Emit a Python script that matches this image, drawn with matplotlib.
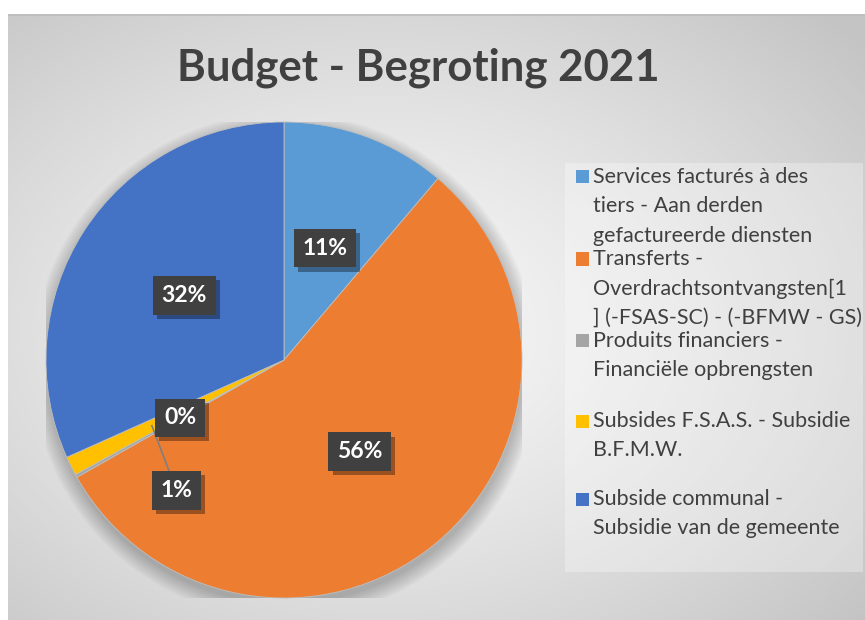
import numpy as np
import matplotlib
matplotlib.use("Agg")
import matplotlib.pyplot as plt
import matplotlib.patches as mpatches
import matplotlib.patheffects as pe

# ---------------- data ----------------
title = "Budget - Begroting 2021"
categories = [
    "Services facturés à des\ntiers - Aan derden\ngefactureerde diensten",
    "Transferts -\nOverdrachtsontvangsten[1\n] (-FSAS-SC) - (-BFMW - GS)",
    "Produits financiers -\nFinanciële opbrengsten",
    "Subsides F.S.A.S. - Subsidie\nB.F.M.W.",
    "Subside communal -\nSubsidie van de gemeente",
]
values = [11.2, 55.6, 0.2, 1.3, 31.7]
pct_labels = ["11%", "56%", "0%", "1%", "32%"]
colors = ["#5B9BD5", "#ED7D31", "#A5A5A5", "#FFC000", "#4472C4"]

W, H = 865, 620
fig = plt.figure(figsize=(W / 100, H / 100), dpi=100)
fig.patch.set_facecolor("white")

def fx(px):
    return px / W

def fy(py):
    return 1 - py / H

# ---------------- background gradient ----------------
bx0, by0 = 8, 14
bg = fig.add_axes([fx(bx0), 0, 1 - fx(bx0), fy(by0)])
bg.set_axis_off()
nx, ny = 400, 300
xs = np.linspace(bx0, W, nx)
ys = np.linspace(by0, H, ny)
X, Y = np.meshgrid(xs, ys)
cx, cy = 380, 330
r = np.sqrt(((X - cx) / 470) ** 2 + ((Y - cy) / 330) ** 2)
r = np.clip(r / 1.35, 0, 1)
light, dark = 0.97, 0.77
val = light - (light - dark) * r ** 1.3
img = np.dstack([val, val, val])
bg.imshow(img, extent=[0, 1, 0, 1], aspect="auto", origin="upper")
bg.set_xlim(0, 1)
bg.set_ylim(0, 1)
bg.plot([0, 1], [0.999, 0.999], color="#bdbdbd", lw=1.2)

# ---------------- pie ----------------
pcx, pcy, rad = 284, 360, 238
ax = fig.add_axes([fx(pcx - rad), fy(pcy + rad), 2 * rad / W, 2 * rad / H])
ax.set_axis_off()

# soft shadow
for i in range(10):
    ax.add_patch(mpatches.Circle((0.005, -0.025), 1.0 + 0.007 * i,
                                 color="black", alpha=0.025, lw=0, zorder=0))

wedges, _ = ax.pie(values, colors=colors, startangle=90, counterclock=False,
                   radius=1.0, wedgeprops=dict(linewidth=0.6, edgecolor="#bfbfbf"))
for w in wedges:
    w.set_zorder(1)
ax.set_aspect("equal")
ax.set_xlim(-1, 1)
ax.set_ylim(-1, 1)

total = float(sum(values))
cum = np.cumsum([0] + values)
mid_angles = [90 - 360 * (cum[i] + values[i] / 2) / total for i in range(len(values))]

label_r = [0.5, 0.5, 0.5, 0.71, 0.5]
label_shift = [0, 0, 0, 24, 0]  # angular offset (deg) for crowded small slices

def make_label(txt, x, y, z):
    t = ax.text(x, y, txt, ha="center", va="center", color="white",
                fontsize=16.5, fontweight="bold", family="Lato", zorder=z,
                bbox=dict(boxstyle="square,pad=0.38", fc="#404040", ec="none"))
    t.get_bbox_patch().set_path_effects([
        pe.withSimplePatchShadow(offset=(3, -3), shadow_rgbFace="black", alpha=0.35),
        pe.Normal()])
    return t

positions = []
for i, txt in enumerate(pct_labels):
    a = np.deg2rad(mid_angles[i] + label_shift[i])
    x, y = label_r[i] * np.cos(a), label_r[i] * np.sin(a)
    positions.append((x, y))

# leader line for the 1% label
a3 = np.deg2rad(mid_angles[3])
x3, y3 = positions[3]
ax.plot([x3, 0.62 * np.cos(a3)], [y3, 0.62 * np.sin(a3)], color="#7f7f7f",
        lw=1.2, zorder=3)

for i, txt in enumerate(pct_labels):
    z = 6 if i == 2 else 5
    make_label(txt, positions[i][0], positions[i][1], z)

# ---------------- title ----------------
fig.text(fx(418), fy(68), title, ha="center", va="center", fontsize=31.5,
         fontweight="bold", color="#404040", family="Lato")

# ---------------- legend ----------------
lg = mpatches.Rectangle((fx(565), fy(572)), fx(863 - 565), (572 - 163) / H,
                        transform=fig.transFigure, fc="white", alpha=0.3,
                        ec="none", zorder=1)
fig.patches.append(lg)

entry_y = [177, 259, 341, 421, 499]
line_gap = 29.5
for i, lab in enumerate(categories):
    y0 = entry_y[i]
    sq = 13
    fig.patches.append(mpatches.Rectangle((fx(576), fy(y0 + sq / 2)), sq / W, sq / H,
                                          transform=fig.transFigure, fc=colors[i],
                                          ec="none", zorder=2))
    for j, line in enumerate(lab.split("\n")):
        fig.text(fx(593), fy(y0 + j * line_gap), line, ha="left", va="center",
                 fontsize=15.5, color="#404040", family="Lato", zorder=3)

fig.savefig("out.png", dpi=100)
